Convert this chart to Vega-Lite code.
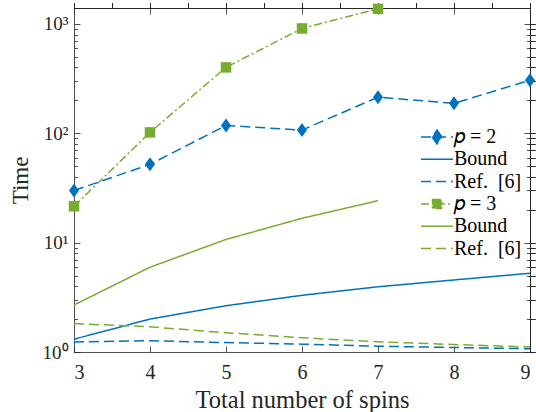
{
  "$schema": "https://vega.github.io/schema/vega-lite/v6.json",
  "autosize": {"type": "none"},
  "width": 456,
  "height": 344,
  "padding": {"left": 74, "top": 8, "right": 6, "bottom": 60},
  "background": "white",
  "config": {
    "font": "Liberation Serif",
    "view": {"stroke": null},
    "axis": {"grid": false, "domainColor": "#262626", "tickColor": "#262626", "labelColor": "#262626", "titleColor": "#262626", "titleFontWeight": "normal", "domainWidth": 0.8, "tickWidth": 0.8}
  },
  "data": {
    "values": [
      {"n": 3, "t": 30, "s": "p2"}, {"n": 4, "t": 52, "s": "p2"}, {"n": 5, "t": 118, "s": "p2"}, {"n": 6, "t": 107, "s": "p2"}, {"n": 7, "t": 214, "s": "p2"}, {"n": 8, "t": 188, "s": "p2"}, {"n": 9, "t": 306, "s": "p2"},
      {"n": 3, "t": 1.31, "s": "b2"}, {"n": 4, "t": 2.0, "s": "b2"}, {"n": 5, "t": 2.65, "s": "b2"}, {"n": 6, "t": 3.3, "s": "b2"}, {"n": 7, "t": 3.95, "s": "b2"}, {"n": 8, "t": 4.56, "s": "b2"}, {"n": 9, "t": 5.25, "s": "b2"},
      {"n": 3, "t": 1.235, "s": "r2"}, {"n": 4, "t": 1.27, "s": "r2"}, {"n": 5, "t": 1.22, "s": "r2"}, {"n": 6, "t": 1.18, "s": "r2"}, {"n": 7, "t": 1.13, "s": "r2"}, {"n": 8, "t": 1.10, "s": "r2"}, {"n": 9, "t": 1.07, "s": "r2"},
      {"n": 3, "t": 21.5, "s": "p3"}, {"n": 4, "t": 102, "s": "p3"}, {"n": 5, "t": 401, "s": "p3"}, {"n": 6, "t": 910, "s": "p3"}, {"n": 7, "t": 1375, "s": "p3"},
      {"n": 3, "t": 2.69, "s": "b3"}, {"n": 4, "t": 5.96, "s": "b3"}, {"n": 5, "t": 10.7, "s": "b3"}, {"n": 6, "t": 16.7, "s": "b3"}, {"n": 7, "t": 24.2, "s": "b3"},
      {"n": 3, "t": 1.82, "s": "r3"}, {"n": 4, "t": 1.70, "s": "r3"}, {"n": 5, "t": 1.50, "s": "r3"}, {"n": 6, "t": 1.35, "s": "r3"}, {"n": 7, "t": 1.24, "s": "r3"}, {"n": 8, "t": 1.17, "s": "r3"}, {"n": 9, "t": 1.11, "s": "r3"}
    ]
  },
  "encoding": {
    "x": {"field": "n", "type": "quantitative", "scale": {"domain": [3, 9], "nice": false, "zero": false}},
    "y": {"field": "t", "type": "quantitative", "scale": {"type": "log", "domain": [1, 1400], "nice": false}}
  },
  "layer": [
    {
      "mark": {"type": "line", "strokeWidth": 1.5, "clip": true},
      "encoding": {
        "x": {"field": "n", "type": "quantitative", "title": "Total number of spins",
          "axis": {"orient": "bottom", "values": [3, 4, 5, 6, 7, 8, 9], "tickSize": -6, "labelPadding": 16, "labelFontSize": 20, "labelFont": "Liberation Serif", "titleFontSize": 24.5, "titleFont": "Liberation Serif", "titleY": 55, "titleBaseline": "alphabetic"}},
        "y": {"field": "t", "type": "quantitative", "title": "Time",
          "axis": {"orient": "left", "values": [1, 10, 100, 1000], "tickSize": -6, "labelPadding": 12, "labelFontSize": 19, "labelFont": "Liberation Serif", "titleFontSize": 23, "titleFont": "Liberation Serif", "titleX": -47, "titleY": 172, "titleAngle": -90, "titleBaseline": "alphabetic", "titleAlign": "center",
            "labelExpr": "datum.value == 1 ? '10⁰' : datum.value == 10 ? '10¹' : datum.value == 100 ? '10²' : '10³'"}},
        "color": {"field": "s", "type": "nominal",
          "scale": {"domain": ["p2", "b2", "r2", "p3", "b3", "r3"], "range": ["#0072BD", "#0072BD", "#0072BD", "#77AC30", "#77AC30", "#77AC30"]},
          "legend": {"title": null, "orient": "none", "legendX": 352, "legendY": 118, "symbolSize": 400, "symbolStrokeWidth": 1.5, "labelFontSize": 20, "labelFont": "Liberation Serif", "labelOffset": 6, "rowPadding": 1.3,
            "labelExpr": "datum.value == 'p2' ? '𝑝 = 2' : datum.value == 'p3' ? '𝑝 = 3' : (datum.value == 'b2' || datum.value == 'b3') ? 'Bound' : 'Ref.\u00a0\u00a0[6]'"}},
        "strokeDash": {"field": "s", "type": "nominal",
          "scale": {"domain": ["p2", "b2", "r2", "p3", "b3", "r3"], "range": [[10, 5], [1, 0], [10, 5], [8, 3, 2, 3], [1, 0], [10, 5]]}}
      }
    },
    {
      "transform": [{"filter": "false"}],
      "mark": {"type": "point", "filled": true, "opacity": 1},
      "encoding": {
        "color": {"field": "s", "type": "nominal"},
        "shape": {"field": "s", "type": "nominal",
          "scale": {"domain": ["p2", "b2", "r2", "p3", "b3", "r3"],
            "range": ["M-1.6,0L1.6,0M0,-0.7L0.5,0L0,0.7L-0.5,0Z", "M-1.6,0L1.6,0", "M-1.6,0L1.6,0", "M-1.6,0L1.6,0M-0.45,-0.45L0.45,-0.45L0.45,0.45L-0.45,0.45Z", "M-1.6,0L1.6,0", "M-1.6,0L1.6,0"]}}
      }
    },
    {
      "transform": [{"filter": "datum.s == 'p2'"}],
      "mark": {"type": "point", "filled": true, "opacity": 1, "color": "#0072BD", "size": 196, "shape": "M0,-1L0.72,0L0,1L-0.72,0Z", "clip": false}
    },
    {
      "transform": [{"filter": "datum.s == 'p3'"}],
      "mark": {"type": "point", "filled": true, "opacity": 1, "color": "#77AC30", "size": 110, "shape": "square", "clip": false}
    },
    {
      "mark": {"type": "rule", "opacity": 0},
      "encoding": {
        "x": {"field": "n", "type": "quantitative", "axis": {"orient": "top", "values": [3, 4, 5, 6, 7, 8, 9], "tickSize": -6, "labels": false, "title": null}},
        "y": {"field": "t", "type": "quantitative", "axis": {"orient": "right", "values": [1, 10, 100, 1000], "tickSize": -6, "labels": false, "title": null}}
      }
    },
    {
      "mark": {"type": "rule", "opacity": 0},
      "encoding": {
        "y": {"field": "t", "type": "quantitative", "axis": {"orient": "left", "values": [2, 3, 4, 5, 6, 7, 8, 9, 20, 30, 40, 50, 60, 70, 80, 90, 200, 300, 400, 500, 600, 700, 800, 900], "tickSize": -3.5, "labels": false, "domain": false, "title": null}}
      }
    },
    {
      "mark": {"type": "rule", "opacity": 0},
      "encoding": {
        "y": {"field": "t", "type": "quantitative", "axis": {"orient": "right", "values": [2, 3, 4, 5, 6, 7, 8, 9, 20, 30, 40, 50, 60, 70, 80, 90, 200, 300, 400, 500, 600, 700, 800, 900], "tickSize": -3.5, "labels": false, "domain": false, "title": null}}
      }
    }
  ]
}
